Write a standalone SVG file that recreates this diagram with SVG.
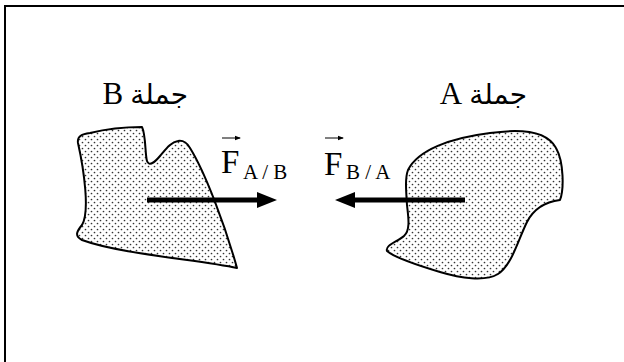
<svg xmlns="http://www.w3.org/2000/svg" width="624" height="362" viewBox="0 0 624 362">
<defs>
<pattern id="dots" width="6" height="6" patternUnits="userSpaceOnUse">
<circle cx="1.5" cy="1.5" r="0.85" fill="#333"/>
<circle cx="4.5" cy="4.5" r="0.85" fill="#333"/>
</pattern>
<marker id="bighead" markerUnits="userSpaceOnUse" markerWidth="20" markerHeight="18" refX="1" refY="9" orient="auto">
<path d="M0,1 L20,9 L0,17 Z" fill="#000"/>
</marker>
<marker id="vec" markerUnits="userSpaceOnUse" markerWidth="6" markerHeight="6" refX="5" refY="3" orient="auto">
<path d="M0,0.8 L6,3 L0,5.2 Z" fill="#000"/>
</marker>
<style>
.body{fill:url(#dots);stroke:#000;stroke-width:2;stroke-linejoin:round}
.force{stroke:#000;stroke-width:5;fill:none;marker-end:url(#bighead)}
.lbl{font-family:"Liberation Serif","DejaVu Sans",serif;font-size:28px;fill:#000}
.lat{font-size:31px}
.F{font-family:"Liberation Serif",serif;font-size:33px;fill:#000}
.sub{font-family:"Liberation Serif",serif;font-size:21px;fill:#000}
.vecline{stroke:#000;stroke-width:1;marker-end:url(#vec)}
</style>
</defs>
<rect x="5" y="6" width="700" height="420" fill="none" stroke="#000" stroke-width="2"/>
<g id="systemB">
<path class="body" d="M78,143 C77,136 82,134 90,133 C110,128 128,127 142,127 C146,135 145,155 147,161 C149,167 155,162 160,156 C166,149 171,142 178,141 C184,140 187,143 190,148 C205,172 225,225 237,268 C200,260 120,254 82,240 C74,236 77,231 82,225 C90,212 84,170 78,143 Z"/>
<text class="lbl" x="188" y="104" direction="rtl">جملة <tspan class="lat">B</tspan></text>
</g>
<g id="systemA">
<path class="body" d="M408,170 C418,150 450,138 490,133 C525,128 548,133 556,148 C564,162 564,190 560,200 C545,202 533,210 527,222 C518,240 512,265 498,274 C485,282 460,278 440,272 C420,266 395,258 387,251 C385,245 397,242 404,236 C411,230 408,215 407,205 C406,190 405,178 408,170 Z"/>
<text class="lbl" x="527" y="104" direction="rtl">جملة <tspan class="lat">A</tspan></text>
</g>
<g id="connectors">
<line class="force" x1="147" y1="200" x2="258" y2="200"/>
<line class="force" x1="465" y1="200" x2="354" y2="200"/>
</g>
<g id="labelFAB">
<line class="vecline" x1="222" y1="138" x2="240" y2="138"/>
<text class="F" x="221" y="173">F</text>
<text class="sub" x="243" y="179">A / B</text>
</g>
<g id="labelFBA">
<line class="vecline" x1="325" y1="138" x2="343" y2="138"/>
<text class="F" x="324" y="175">F</text>
<text class="sub" x="346" y="179">B / A</text>
</g>
</svg>
